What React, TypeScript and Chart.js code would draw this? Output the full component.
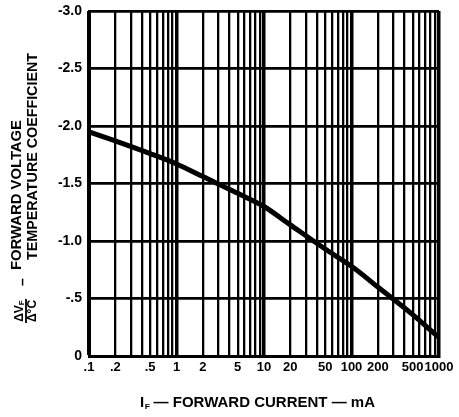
import React, { useEffect, useRef } from 'react';
import { Chart, registerables } from 'chart.js';

Chart.register(...registerables);

// Forward current (mA) and forward-voltage temperature coefficient (mV/°C)
const currentMA = [0.1, 0.2, 0.5, 1, 2, 5, 10, 20, 50, 100, 200, 500, 1000];
const tempCoeff = [-1.95, -1.87, -1.76, -1.67, -1.56, -1.415, -1.3, -1.14, -0.93, -0.78, -0.6, -0.36, -0.16];

const xLabelValues = [0.1, 0.2, 0.5, 1, 2, 5, 10, 20, 50, 100, 200, 500, 1000];
const xLabelTexts = ['.1', '.2', '.5', '1', '2', '5', '10', '20', '50', '100', '200', '500', '1000'];
const xDecades = [0.1, 1, 10, 100];
const xMultipliers = [1, 2, 3, 4, 5, 6, 7, 8, 9];
const xMax = 1000;

const yTickValues = [-3, -2.5, -2, -1.5, -1, -0.5, 0];
const yTickTexts = ['-3.0', '-2.5', '-2.0', '-1.5', '-1.0', '-.5', '0'];

const FONT = "'Liberation Sans', Arial, sans-serif";

const xGridValues: number[] = [];
xDecades.forEach((d) => xMultipliers.forEach((m) => xGridValues.push(Number((d * m).toPrecision(6)))));
xGridValues.push(xMax);

const near = (a: number, b: number) => Math.abs(a - b) <= Math.abs(b) * 1e-6;

const titlePlugin = {
  id: 'titles',
  afterDraw(chart: any) {
    const ctx: CanvasRenderingContext2D = chart.ctx;
    const font = (s: number) => `bold ${s}px ${FONT}`;
    ctx.save();
    ctx.fillStyle = '#000';

    const drawRot = (text: string, cx: number, startY: number, length: number | null, size: number, align: CanvasTextAlign = 'left') => {
      ctx.save();
      ctx.font = font(size);
      const w = ctx.measureText(text).width;
      ctx.translate(cx, startY);
      ctx.rotate(-Math.PI / 2);
      if (length) ctx.scale(length / w, 1);
      ctx.textAlign = align;
      ctx.textBaseline = 'middle';
      ctx.fillText(text, 0, 0);
      ctx.restore();
    };

    // Y axis title (two lines)
    drawRot('FORWARD VOLTAGE', 17, 270, 150, 15);
    drawRot('TEMPERATURE COEFFICIENT', 33, 260, 207, 15);
    drawRot('–', 23, 282, null, 14, 'center');

    // fraction ΔV_F / Δ°C
    ctx.save();
    ctx.translate(26, 311);
    ctx.rotate(-Math.PI / 2);
    ctx.textBaseline = 'middle';
    ctx.font = font(12);
    const wDV = ctx.measureText('ΔV').width;
    ctx.font = font(8);
    const wF = ctx.measureText('F').width;
    const numStart = -(wDV + wF) / 2;
    ctx.font = font(12);
    ctx.textAlign = 'left';
    ctx.fillText('ΔV', numStart, -6.5);
    ctx.font = font(8);
    ctx.fillText('F', numStart + wDV, -4);
    ctx.fillRect(-12, -0.9, 24, 1.8);
    ctx.font = font(12);
    ctx.textAlign = 'center';
    ctx.fillText('Δ°C', 0, 7);
    ctx.restore();

    // X axis title
    ctx.save();
    ctx.textBaseline = 'middle';
    ctx.textAlign = 'left';
    ctx.font = font(14);
    const wI = ctx.measureText('I').width;
    const rest = ' — FORWARD CURRENT — mA';
    const wRest = ctx.measureText(rest).width;
    ctx.font = font(8);
    const wSub = ctx.measureText('F').width;
    const total = wI + wSub + wRest;
    ctx.translate(140, 403);
    ctx.scale(235 / total, 1);
    ctx.font = font(14);
    ctx.fillText('I', 0, 0);
    ctx.font = font(8);
    ctx.fillText('F', wI + 0.5, 4);
    ctx.font = font(14);
    ctx.fillText(rest, wI + wSub, 0);
    ctx.restore();

    ctx.restore();
  },
};

export default function App() {
  const canvasRef = useRef<HTMLCanvasElement | null>(null);

  useEffect(() => {
    if (!canvasRef.current) return;
    const chart = new Chart(canvasRef.current, {
      type: 'line',
      data: {
        datasets: [
          {
            data: currentMA.map((x, i) => ({ x, y: tempCoeff[i] })),
            borderColor: '#000',
            borderWidth: 5,
            pointRadius: 0,
            fill: false,
            cubicInterpolationMode: 'monotone',
          },
        ],
      },
      options: {
        responsive: false,
        animation: false,
        events: [],
        layout: { padding: { top: 11, right: 20, left: 0, bottom: 0 } },
        plugins: { legend: { display: false }, tooltip: { enabled: false }, title: { display: false } },
        scales: {
          x: {
            type: 'logarithmic',
            min: 0.1,
            max: xMax,
            afterBuildTicks: (s: any) => {
              s.ticks = xGridValues.map((v) => ({ value: v }));
            },
            afterFit: (s: any) => {
              s.height = 61;
              s.paddingLeft = 0;
              s.paddingRight = 0;
            },
            ticks: {
              autoSkip: false,
              maxRotation: 0,
              minRotation: 0,
              padding: 4,
              color: '#000',
              font: { family: FONT, weight: 'bold', size: 13 },
              callback: (v: any) => {
                const i = xLabelValues.findIndex((x) => near(Number(v), x));
                return i >= 0 ? xLabelTexts[i] : '';
              },
            },
            grid: {
              color: '#000',
              drawTicks: false,
              lineWidth: (c: any) => {
                const v = c.tick ? c.tick.value : 0;
                return xDecades.some((d) => near(v, d)) || near(v, xMax) ? 3.5 : 2.3;
              },
            },
            border: { display: true, color: '#000', width: 3 },
          },
          y: {
            type: 'linear',
            min: -3,
            max: 0,
            reverse: true,
            afterBuildTicks: (s: any) => {
              s.ticks = yTickValues.map((v) => ({ value: v }));
            },
            afterFit: (s: any) => {
              s.width = 89;
              s.paddingTop = 0;
              s.paddingBottom = 0;
            },
            ticks: {
              padding: 7,
              color: '#000',
              font: { family: FONT, weight: 'bold', size: 14 },
              callback: (v: any) => {
                const i = yTickValues.findIndex((x) => Math.abs(Number(v) - x) < 1e-9);
                return i >= 0 ? yTickTexts[i] : '';
              },
            },
            grid: { color: '#000', drawTicks: false, lineWidth: 2.8 },
            border: { display: true, color: '#000', width: 3 },
          },
        },
      } as any,
      plugins: [titlePlugin],
    });
    return () => chart.destroy();
  }, []);

  return (
    <div style={{ position: 'absolute', left: 0, top: 0, width: 459, height: 417, background: '#fff' }}>
      <canvas ref={canvasRef} width={459} height={417} style={{ display: 'block', width: 459, height: 417 }} />
    </div>
  );
}
